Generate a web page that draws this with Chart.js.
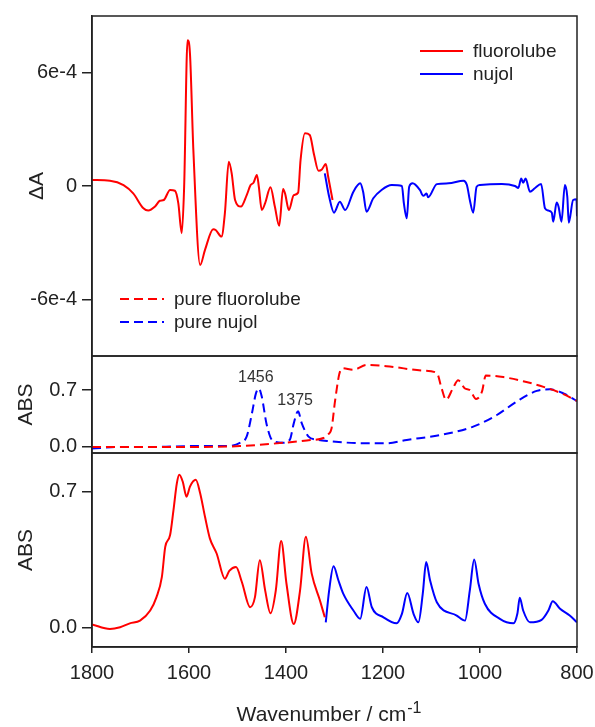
<!DOCTYPE html>
<html>
<head>
<meta charset="utf-8">
<title>Difference spectra</title>
<script src="https://cdn.jsdelivr.net/npm/chart.js@4.4.1/dist/chart.umd.min.js"></script>
<style>
  html, body { margin: 0; padding: 0; background: #fff; }
  canvas { display: block; }
</style>
</head>
<body>
<canvas id="spectra" width="595" height="727"></canvas>
<script>
// ---- difference spectrum (top panel), delta absorbance ----
const wnFluoroDiff = [1800, 1763, 1735, 1715, 1694, 1684, 1670, 1660, 1652, 1639, 1629, 1622, 1615, 1610,
    1603, 1598, 1591, 1577, 1567, 1550, 1545, 1533, 1526, 1518, 1512, 1505, 1493, 1481, 1473, 1467,
    1460, 1456, 1450, 1443, 1432, 1423, 1414, 1406, 1402, 1394, 1384, 1375, 1370, 1361, 1351, 1342,
    1333, 1326, 1318, 1313, 1304];
const dAFluoro = [0.32e-4, 0.28e-4, 0.05e-4, -0.39e-4, -1.18e-4, -1.30e-4, -1.09e-4, -0.78e-4, -0.74e-4,
    -0.21e-4, -0.25e-4, -0.92e-4, -2.50e-4, -0.03e-4, 7.72e-4, 7.01e-4, 1.90e-4, -4.18e-4, -3.38e-4,
    -2.29e-4, -2.33e-4, -2.68e-4, -1.44e-4, 1.28e-4, 0.67e-4, -0.74e-4, -1.09e-4, -0.48e-4, 0.05e-4,
    0.17e-4, 0.58e-4, -0.04e-4, -1.27e-4, -0.91e-4, -0.07e-4, -1.09e-4, -2.11e-4, -0.16e-4, -0.39e-4,
    -1.27e-4, -0.48e-4, -0.35e-4, 1.37e-4, 2.79e-4, 2.70e-4, 1.64e-4, 0.81e-4, 0.88e-4, 1.16e-4,
    0.49e-4, -0.74e-4];

const wnNujolDiff = [1320, 1311, 1301, 1289, 1278, 1261, 1247, 1241, 1234, 1220, 1203, 1182, 1161, 1157,
    1151, 1146, 1139, 1124, 1117, 1110, 1107, 1089, 1065, 1034, 1027, 1021, 1014, 1007, 1000, 955,
    928, 921, 915, 911, 906, 897, 887, 874, 866, 859, 852, 849, 842, 838, 832, 825, 820, 817, 808,
    801, 800];
const dANujol = [0.67e-4, -0.57e-4, -1.41e-4, -0.83e-4, -1.27e-4, -0.30e-4, 0.14e-4, -0.30e-4, -1.36e-4,
    -0.65e-4, -0.21e-4, 0.05e-4, 0.0e-4, -0.91e-4, -1.71e-4, -0.04e-4, 0.14e-4, -0.21e-4, -0.52e-4,
    -0.40e-4, -0.60e-4, 0.10e-4, 0.14e-4, 0.28e-4, 0.05e-4, -0.74e-4, -1.41e-4, -0.04e-4, 0.05e-4,
    0.10e-4, 0.0e-4, -0.10e-4, 0.40e-4, 0.17e-4, 0.40e-4, -0.30e-4, -0.12e-4, 0.10e-4, -1.18e-4,
    -1.30e-4, -1.41e-4, -1.89e-4, -0.88e-4, -1.10e-4, -1.89e-4, 0.05e-4, -0.57e-4, -1.94e-4,
    -0.74e-4, -0.70e-4, -1.60e-4];

// ---- pure mulling agents (middle panel), absorbance ----
const wnPureFluoro = [1800, 1700, 1600, 1495, 1426, 1357, 1323, 1312, 1306, 1299, 1290, 1284, 1261, 1234,
    1186, 1117, 1089, 1079, 1070, 1056, 1045, 1031, 1021, 1008, 996, 988, 952, 911, 869, 828, 800];
const absPureFluoro = [0.0, 0.0, 0.0, 0.01, 0.04, 0.08, 0.11, 0.16, 0.23, 0.56, 0.90, 0.97, 0.95, 1.01,
    0.99, 0.94, 0.91, 0.72, 0.58, 0.72, 0.82, 0.72, 0.70, 0.59, 0.68, 0.88, 0.86, 0.81, 0.74, 0.65, 0.565];

const wnPureNujol = [1800, 1740, 1667, 1600, 1529, 1495, 1481, 1470, 1462, 1456, 1450, 1440, 1428, 1406,
    1392, 1384, 1375, 1368, 1354, 1337, 1309, 1241, 1193, 1151, 1082, 1014, 966, 924, 883, 856, 828, 800];
const absPureNujol = [-0.02, 0.0, 0.0, 0.01, 0.01, 0.05, 0.13, 0.42, 0.66, 0.72, 0.62, 0.28, 0.08, 0.05,
    0.09, 0.29, 0.44, 0.30, 0.13, 0.09, 0.07, 0.045, 0.045, 0.086, 0.147, 0.25, 0.39, 0.56, 0.69, 0.71,
    0.66, 0.565];

// nujol bands marked on the pure spectrum
const peakLabels = [1456, 1375];

// ---- sample spectrum (bottom panel), absorbance ----
const wnFluoroAbs = [1800, 1763, 1742, 1722, 1701, 1680, 1667, 1656, 1649, 1639, 1632, 1625, 1620, 1613,
    1605, 1598, 1586, 1577, 1567, 1557, 1543, 1526, 1517, 1503, 1491, 1474, 1464, 1454, 1443, 1432,
    1421, 1410, 1399, 1384, 1371, 1359, 1347, 1330, 1320];
const absFluoro = [0.016, -0.007, 0.002, 0.022, 0.036, 0.088, 0.157, 0.26, 0.416, 0.477, 0.606, 0.745,
    0.788, 0.753, 0.675, 0.727, 0.762, 0.693, 0.571, 0.46, 0.382, 0.252, 0.292, 0.312, 0.235, 0.105,
    0.157, 0.347, 0.192, 0.074, 0.192, 0.447, 0.226, 0.019, 0.192, 0.468, 0.278, 0.14, 0.053];

const wnNujolAbs = [1318, 1311, 1302, 1292, 1282, 1261, 1247, 1234, 1223, 1199, 1172, 1161, 1150, 1137,
    1127, 1118, 1111, 1103, 1089, 1048, 1031, 1021, 1012, 1003, 990, 959, 931, 923, 918, 911, 897, 873,
    859, 850, 835, 815, 800];
const absNujol = [0.027, 0.192, 0.316, 0.244, 0.175, 0.088, 0.045, 0.209, 0.105, 0.053, 0.022, 0.071,
    0.178, 0.071, 0.027, 0.175, 0.338, 0.244, 0.131, 0.062, 0.036, 0.192, 0.351, 0.226, 0.123, 0.045,
    0.022, 0.071, 0.154, 0.088, 0.027, 0.04, 0.088, 0.136, 0.097, 0.062, 0.027];

// ---- axes ----
const xTicks = [1800, 1600, 1400, 1200, 1000, 800];
const dATicks = [-6e-4, 0, 6e-4];
const dATickLabels = ['-6e-4', '0', '6e-4'];
const absTicks = [0, 0.7];
const absTickLabels = ['0.0', '0.7'];

const RED = '#ff0000';
const BLUE = '#0000ff';
const INK = '#222222';
const FONT = 'Liberation Sans, Arial, sans-serif';

function toPoints(xs, ys) {
    return xs.map((x, i) => ({ x: x, y: ys[i] }));
}

function lineSet(label, xs, ys, color, axis, dashed, inLegend) {
    return {
        label: label,
        data: toPoints(xs, ys),
        yAxisID: axis,
        borderColor: color,
        borderWidth: 2,
        borderDash: dashed ? [9, 5] : [],
        pointRadius: 0,
        fill: false,
        cubicInterpolationMode: 'monotone',
        legendGroup: inLegend
    };
}

function yAxis(stackWeight, weight, min, max, ticks, labels, title, titlePad) {
    return {
        type: 'linear',
        position: 'left',
        stack: 'panels',
        stackWeight: stackWeight,
        weight: weight,
        min: min,
        max: max,
        afterBuildTicks: function(scale) {
            scale.ticks = ticks.map(v => ({ value: v }));
        },
        afterFit: function(scale) {
            scale.width = 92;
            scale.paddingTop = 0;
            scale.paddingBottom = 0;
        },
        ticks: {
            color: INK,
            font: { family: FONT, size: 20 },
            padding: 5,
            callback: function(value) {
                const i = ticks.indexOf(value);
                return i >= 0 ? labels[i] : '';
            }
        },
        grid: { drawOnChartArea: false, drawTicks: true, tickLength: 10, color: INK, lineWidth: 1.5 },
        border: { display: true, color: INK, width: 1.5 },
        title: {
            display: true,
            text: title,
            color: INK,
            font: { family: FONT, size: 21 },
            padding: { top: titlePad, bottom: 0 }
        }
    };
}

// frame around each panel, legends, band labels, x title with superscript
const decorations = {
    id: 'decorations',
    afterDatasetsDraw(chart) {
        const { ctx, chartArea, scales } = chart;
        const ds = chart.data.datasets;
        ctx.save();

        // panel frames
        ctx.strokeStyle = INK;
        ctx.lineWidth = 1.5;
        ctx.setLineDash([]);
        ['yTop', 'yMid', 'yBot'].forEach(id => {
            const s = scales[id];
            ctx.strokeRect(chartArea.left, s.top, chartArea.right - chartArea.left, s.bottom - s.top);
        });

        // legends
        ctx.font = '19px ' + FONT;
        ctx.textBaseline = 'middle';
        ctx.textAlign = 'left';
        function legendRow(d, x0, x1, y) {
            ctx.strokeStyle = d.borderColor;
            ctx.lineWidth = d.borderWidth;
            ctx.setLineDash(d.borderDash);
            ctx.beginPath();
            ctx.moveTo(x0, y);
            ctx.lineTo(x1, y);
            ctx.stroke();
            ctx.fillStyle = INK;
            ctx.fillText(d.label, x1 + 10, y + 1);
        }
        const top = scales.yTop;
        const upper = ds.filter(d => d.legendGroup === 'upper');
        upper.forEach((d, i) => legendRow(d, chartArea.right - 157, chartArea.right - 114, top.top + 35 + i * 23));
        const lower = ds.filter(d => d.legendGroup === 'lower');
        lower.forEach((d, i) => legendRow(d, chartArea.left + 28, chartArea.left + 72, top.bottom - 57 + i * 23));

        // nujol band positions on the pure spectrum
        ctx.setLineDash([]);
        ctx.fillStyle = '#333';
        ctx.font = '16px ' + FONT;
        ctx.textAlign = 'center';
        ctx.textBaseline = 'alphabetic';
        const mid = scales.yMid;
        peakLabels.forEach(wn => {
            const i = wnPureNujol.indexOf(wn);
            const px = scales.x.getPixelForValue(wn);
            const py = mid.getPixelForValue(absPureNujol[i]);
            ctx.fillText(String(wn), px - 3, py - 6);
        });

        // x axis title
        const main = 'Wavenumber / cm';
        const sup = '-1';
        ctx.font = '21px ' + FONT;
        const wMain = ctx.measureText(main).width;
        ctx.font = '16px ' + FONT;
        const wSup = ctx.measureText(sup).width;
        const cx = (chartArea.left + chartArea.right) / 2 - 6;
        const x0 = cx - (wMain + wSup) / 2;
        ctx.textAlign = 'left';
        ctx.fillStyle = INK;
        ctx.font = '21px ' + FONT;
        ctx.fillText(main, x0, 721);
        ctx.font = '16px ' + FONT;
        ctx.fillText(sup, x0 + wMain + 1, 713);

        ctx.restore();
    }
};

const datasets = [
    lineSet('fluorolube', wnFluoroDiff, dAFluoro, RED, 'yTop', false, 'upper'),
    lineSet('nujol', wnNujolDiff, dANujol, BLUE, 'yTop', false, 'upper'),
    lineSet('pure fluorolube', wnPureFluoro, absPureFluoro, RED, 'yMid', true, 'lower'),
    lineSet('pure nujol', wnPureNujol, absPureNujol, BLUE, 'yMid', true, 'lower'),
    lineSet('fluorolube ABS', wnFluoroAbs, absFluoro, RED, 'yBot', false, null),
    lineSet('nujol ABS', wnNujolAbs, absNujol, BLUE, 'yBot', false, null)
];

new Chart(document.getElementById('spectra'), {
    type: 'line',
    data: { datasets: datasets },
    options: {
        responsive: false,
        animation: false,
        devicePixelRatio: 1,
        layout: { padding: { top: 16, right: 18, left: 0, bottom: 0 } },
        plugins: {
            legend: { display: false },
            tooltip: { enabled: false }
        },
        scales: {
            x: {
                type: 'linear',
                position: 'bottom',
                reverse: true,
                min: 800,
                max: 1800,
                afterBuildTicks: function(scale) {
                    scale.ticks = xTicks.map(v => ({ value: v }));
                },
                afterFit: function(scale) {
                    scale.height = 80;
                    scale.paddingLeft = 0;
                    scale.paddingRight = 0;
                },
                ticks: {
                    color: INK,
                    font: { family: FONT, size: 20 },
                    padding: 8,
                    maxRotation: 0,
                    callback: function(value) {
                        return String(value);
                    }
                },
                grid: { drawOnChartArea: false, drawTicks: true, tickLength: 6, color: INK, lineWidth: 1.5 },
                border: { display: true, color: INK, width: 1.5 },
                title: { display: false }
            },
            yTop: yAxis(340, 3, -9e-4, 9e-4, dATicks, dATickLabels, '\u0394A', 25),
            yMid: yAxis(97, 2, -0.075, 1.12, absTicks, absTickLabels, 'ABS', 14),
            yBot: yAxis(194, 1, -0.1, 0.9, absTicks, absTickLabels, 'ABS', 14)
        }
    },
    plugins: [decorations]
});
</script>
</body>
</html>
